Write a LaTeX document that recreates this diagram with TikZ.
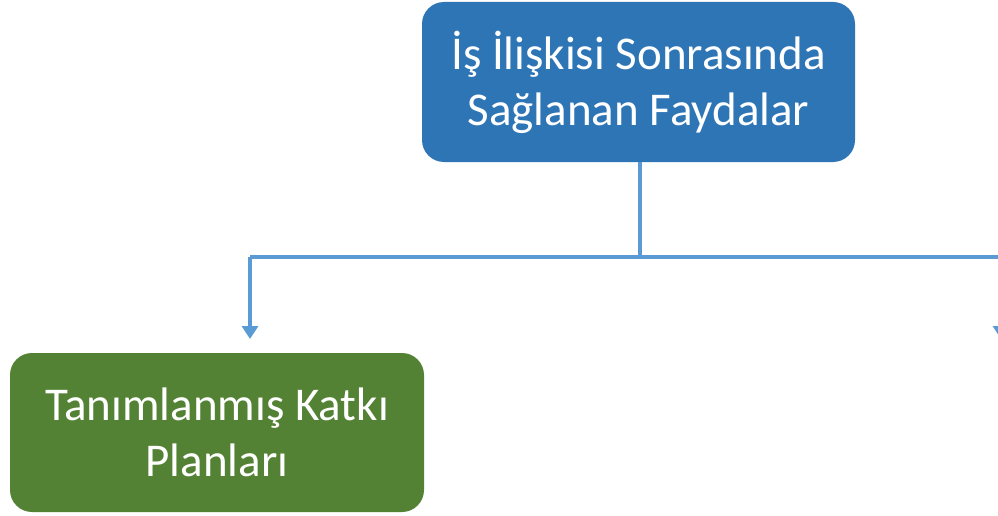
\documentclass[tikz,border=0pt]{standalone}
\usepackage{fontspec}
\setmainfont{Carlito}
\usetikzlibrary{arrows.meta}
\definecolor{boxblue}{HTML}{2E75B6}
\definecolor{boxgreen}{HTML}{548235}
\definecolor{connblue}{HTML}{5B9BD5}
\begin{document}
\begin{tikzpicture}[x=1pt,y=-1pt,
  box/.style={rounded corners=22pt, text=white, align=center, inner sep=0pt,
    font=\fontsize{47pt}{56pt}\selectfont},
  conn/.style={draw=connblue, line width=3.2pt},
  arr/.style={conn, -{Triangle[width=16pt,length=13pt]}, fill=connblue}]
\useasboundingbox (0,0) rectangle (998,516);
\clip (0,0) rectangle (998,516);
\fill[white] (0,0) rectangle (998,516);
\node[box, fill=boxblue, minimum width=433pt, minimum height=160pt] (top) at (638.5,82)
  {İş İlişkisi Sonrasında\\Sağlanan Faydalar};
\node[box, fill=boxgreen, minimum width=414pt, minimum height=159pt] (left) at (217,432.5)
  {Tanımlanmış Katkı\\Planları};
\coordinate (j) at (640,257);
\coordinate (rtip) at (1001,339);
\draw[conn] (top.south -| j) -- (j);
\draw[conn] (250,257) -- (1010,257);
\draw[arr] (250,257) -- (250,339);
\draw[arr] (1001,257) -- (rtip);
\end{tikzpicture}
\end{document}
